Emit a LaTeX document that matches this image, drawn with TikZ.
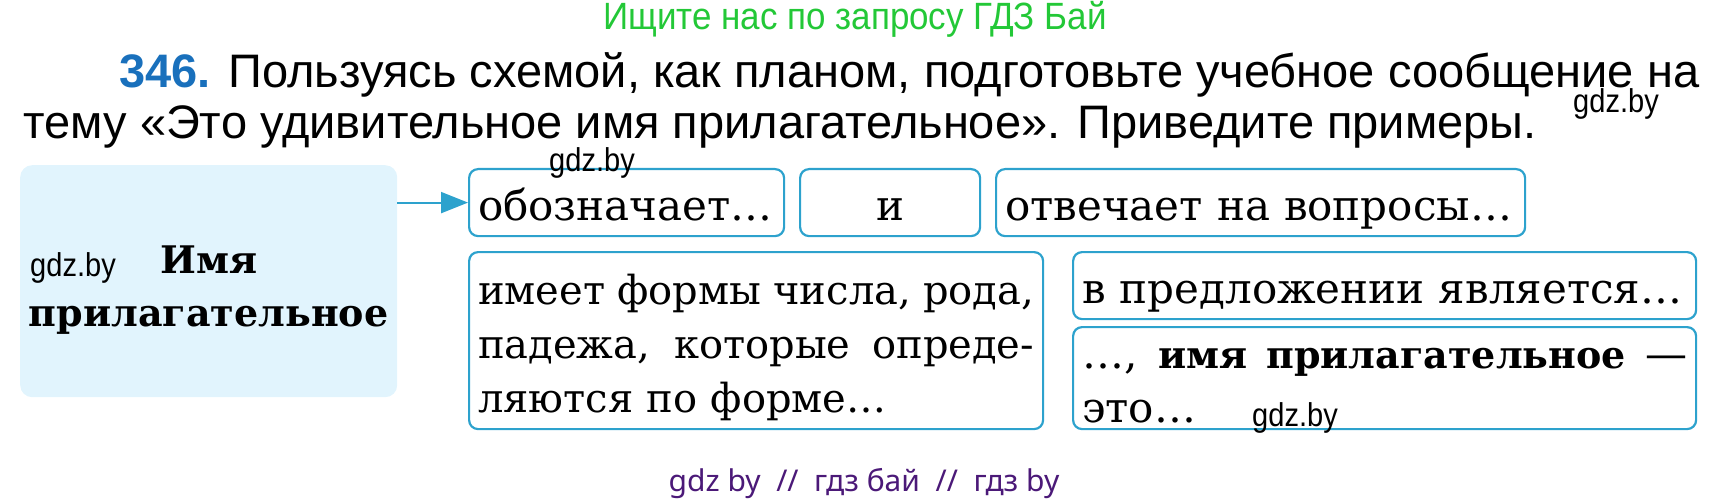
\documentclass[tikz,border=0pt]{standalone}
\usepackage{fontspec}
\setmainfont{DejaVu Serif}
\newfontfamily\headfont{Liberation Sans}
\newfontfamily\seekfont{Liberation Sans}[FakeStretch=0.92]
\newfontfamily\narrowfont{Liberation Sans}[FakeStretch=0.88]
\newfontfamily\footfont{Noto Sans}
\usetikzlibrary{arrows.meta}

\definecolor{rim}{RGB}{45,162,205}
\definecolor{pale}{RGB}{225,244,253}
\definecolor{numblue}{RGB}{25,112,188}
\definecolor{seekgreen}{RGB}{35,200,55}
\definecolor{footviolet}{RGB}{75,25,120}

\newcommand{\heavy}[1]{{\bfseries\fontsize{38}{54}\selectfont #1}}
\newcommand{\spread}[2]{{\spaceskip=0pt\xspaceskip=0pt\makebox[#1][s]{#2}}}

\tikzset{
  plan/.style={draw=rim, line width=2.2pt, rounded corners=9pt,
    inner xsep=9pt, inner ysep=0pt, anchor=north west,
    font=\fontsize{42}{54}\selectfont},
  oneline/.style={text height=40pt, text depth=4pt},
  wmark/.style={font=\narrowfont\fontsize{33}{36}\selectfont},
  arr/.style={rim, line width=2.2pt, -{Triangle[length=27pt,width=21pt]}}
}

\begin{document}
\begin{tikzpicture}[x=1pt,y=-1pt]
  \useasboundingbox (0,0) rectangle (1730,500);

  % task text
  \node [text=seekgreen, font=\seekfont\fontsize{38}{40}\selectfont] (seek) at (855,19)
    {Ищите нас по запросу ГДЗ Бай};
  \node [anchor=base west, font=\headfont\fontsize{47}{54}\selectfont] (task) at (116,88)
    {\textcolor{numblue}{\bfseries 346.} Пользуясь схемой, как планом, подготовьте учебное сообщение на};
  \node [anchor=base west, font=\headfont\fontsize{47}{54}\selectfont] (topic) at (20,139)
    {тему «Это удивительное имя прилагательное». Приведите примеры.};

  % scheme
  \node [fill=pale, rounded corners=12pt, anchor=north west, minimum width=377pt,
    minimum height=232pt, align=center, text height=91pt, text depth=0pt,
    font=\bfseries\fontsize{38}{53}\selectfont]
    (adj) at (20,165) {Имя\\прилагательное};

  \node [plan, oneline, text width=297pt, minimum height=67pt] (means) at (468,168) {обозначает\dots};
  \node [plan, oneline, minimum width=180pt, minimum height=67pt] (conj) at (799,168) {и};
  \node [plan, oneline, text width=511pt, minimum height=67pt] (asks) at (995,168) {отвечает на вопросы\dots};
  \node [plan, text width=556pt, minimum height=177pt, align=left,
    text height=40pt, text depth=112pt, font=\fontsize{40}{54}\selectfont] (forms) at (468,251)
    {\spread{556pt}{имеет формы числа, рода,}\\\spread{556pt}{падежа, которые опреде-}\\ляются по форме\dots};
  \node [plan, oneline, text width=605pt, minimum height=67pt] (role) at (1072,251) {в предложении является\dots};
  \node [plan, text width=605pt, minimum height=102pt, align=left,
    text height=40pt, text depth=59pt] (sum) at (1072,326)
    {\spread{605pt}{\dots, \heavy{имя прилагательное} —}\\это\dots};

  \draw [arr] (adj.east |- means.west) -- (means.west);

  % watermarks
  \foreach \x/\y [count=\i] in {1616/104, 592/163, 73/268, 1295/418}
    \node [wmark] (gdz\i) at (\x,\y) {gdz.by};
  \node [text=footviolet, font=\footfont\fontsize{30}{34}\selectfont] (foot) at (864,484)
    {gdz by \ // \ гдз бай \ // \ гдз by};

\end{tikzpicture}
\end{document}
